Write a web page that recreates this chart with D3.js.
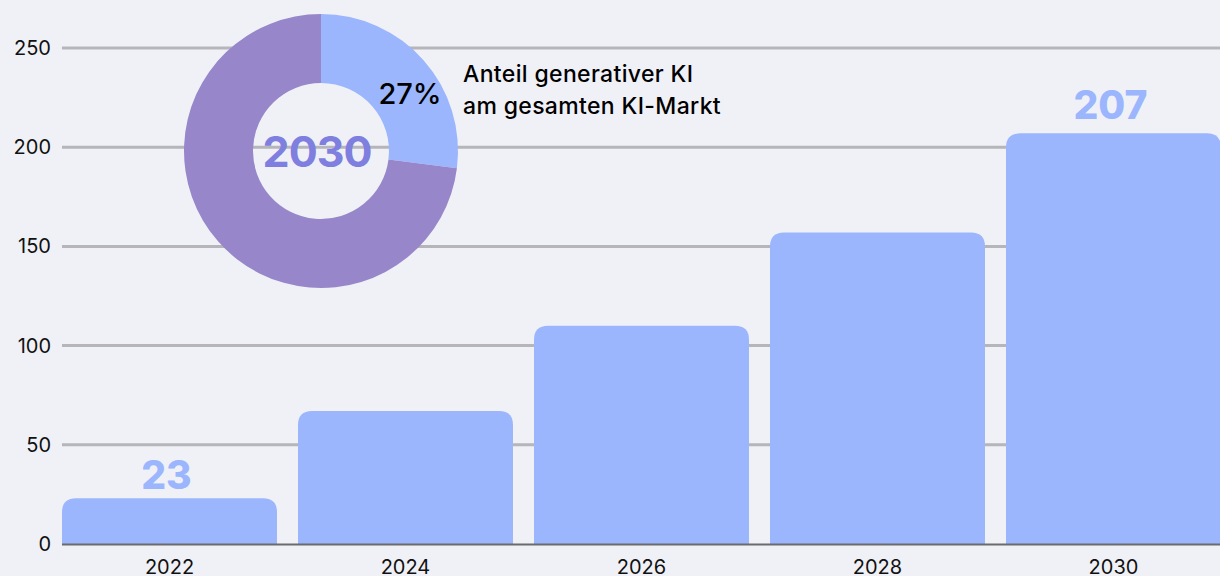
<!DOCTYPE html>
<html>
<head>
<meta charset="utf-8">
<script src="https://cdn.jsdelivr.net/npm/d3@7"></script>
<style>
  html, body { margin: 0; padding: 0; background: #f0f1f7; }
  svg { display: block; font-family: Inter, Roboto, sans-serif; }
</style>
</head>
<body>
<svg id="chart"></svg>
<script>
const years = ['2022', '2024', '2026', '2028', '2030'];
const marketValues = [23, 67, 110, 157, 207];
const labelledYears = ['2022', '2030'];
const yTicks = [0, 50, 100, 150, 200, 250];
const donutYear = '2030';
const donutShares = [27, 73];
const donutLabel = ['Anteil generativer KI', 'am gesamten KI-Markt'];

const W = 1220, H = 576;
const margin = { top: 48, left: 62 };
const colors = { bar: '#9bb6fd', grid: '#b5b5ba', axis: '#6b6b6b', purple: '#9786c9', year: '#7f7fe0' };

const svg = d3.select('#chart').attr('width', W).attr('height', H);

const x = d3.scaleBand().domain(years).range([margin.left, 1221]).paddingInner(0.089).paddingOuter(0);
const y = d3.scaleLinear().domain([0, 250]).range([544, margin.top]);

// Grid
svg.append('g')
    .selectAll('line')
    .data(yTicks.filter(d => d > 0))
    .enter().append('line')
    .attr('x1', margin.left).attr('x2', W)
    .attr('y1', d => y(d)).attr('y2', d => y(d))
    .attr('stroke', colors.grid).attr('stroke-width', 3);

// Y labels
svg.append('g')
    .selectAll('text')
    .data(yTicks)
    .enter().append('text')
    .attr('x', 51).attr('y', d => y(d) + 7)
    .attr('text-anchor', 'end')
    .attr('font-size', '20px').attr('fill', '#111')
    .text(d => d);

// Bars with rounded top corners
const r = 14;
const barPath = (x0, w, yTop, yBase) => {
    const rr = Math.min(r, (yBase - yTop));
    return `M${x0},${yBase}V${yTop + rr}Q${x0},${yTop} ${x0 + rr},${yTop}H${x0 + w - rr}Q${x0 + w},${yTop} ${x0 + w},${yTop + rr}V${yBase}Z`;
};
svg.append('g')
    .selectAll('path')
    .data(years.map((yr, i) => ({ yr, v: marketValues[i] })))
    .enter().append('path')
    .attr('d', d => barPath(x(d.yr), x.bandwidth(), y(d.v), y(0)))
    .attr('fill', colors.bar);

// Baseline
svg.append('line')
    .attr('x1', margin.left).attr('x2', W)
    .attr('y1', y(0) + 0.5).attr('y2', y(0) + 0.5)
    .attr('stroke', colors.axis).attr('stroke-width', 2);

// X labels
svg.append('g')
    .selectAll('text')
    .data(years)
    .enter().append('text')
    .attr('x', d => x(d) + x.bandwidth() / 2)
    .attr('y', 574)
    .attr('text-anchor', 'middle')
    .attr('font-size', '20px').attr('fill', '#111')
    .text(d => d);

// Value labels
svg.append('g')
    .selectAll('text')
    .data(years.map((yr, i) => ({ yr, v: marketValues[i] })).filter(d => labelledYears.includes(d.yr)))
    .enter().append('text')
    .attr('x', d => x(d.yr) + x.bandwidth() / 2 - 3)
    .attr('y', d => d.v > 100 ? y(d.v) - 14 : y(d.v) - 9)
    .attr('text-anchor', 'middle')
    .attr('font-size', '39px').attr('font-weight', 800).attr('fill', colors.bar)
    .text(d => d.v);

// Donut
const cx = 321, cy = 151;
const pie = d3.pie().sort(null).value(d => d);
const arc = d3.arc().innerRadius(68).outerRadius(137);
const donut = svg.append('g').attr('transform', `translate(${cx},${cy})`);
donut.selectAll('path')
    .data(pie(donutShares))
    .enter().append('path')
    .attr('d', arc)
    .attr('fill', (d, i) => i === 0 ? colors.bar : colors.purple);

donut.append('text')
    .attr('x', -4).attr('y', 16)
    .attr('text-anchor', 'middle')
    .attr('font-size', '43px').attr('font-weight', 700).attr('letter-spacing', '-1px').attr('fill', colors.year)
    .text(donutYear);

svg.append('text')
    .attr('x', 410).attr('y', 104)
    .attr('text-anchor', 'middle')
    .attr('font-size', '29px').attr('font-weight', 500).attr('fill', '#000')
    .text(donutShares[0] + '%');

svg.append('text')
    .attr('x', 463).attr('y', 82)
    .attr('font-size', '23px').attr('font-weight', 500).attr('letter-spacing', '0.35px').attr('fill', '#000')
    .selectAll('tspan')
    .data(donutLabel)
    .enter().append('tspan')
    .attr('x', 463).attr('dy', (d, i) => i === 0 ? 0 : 32)
    .text(d => d);
</script>
</body>
</html>
